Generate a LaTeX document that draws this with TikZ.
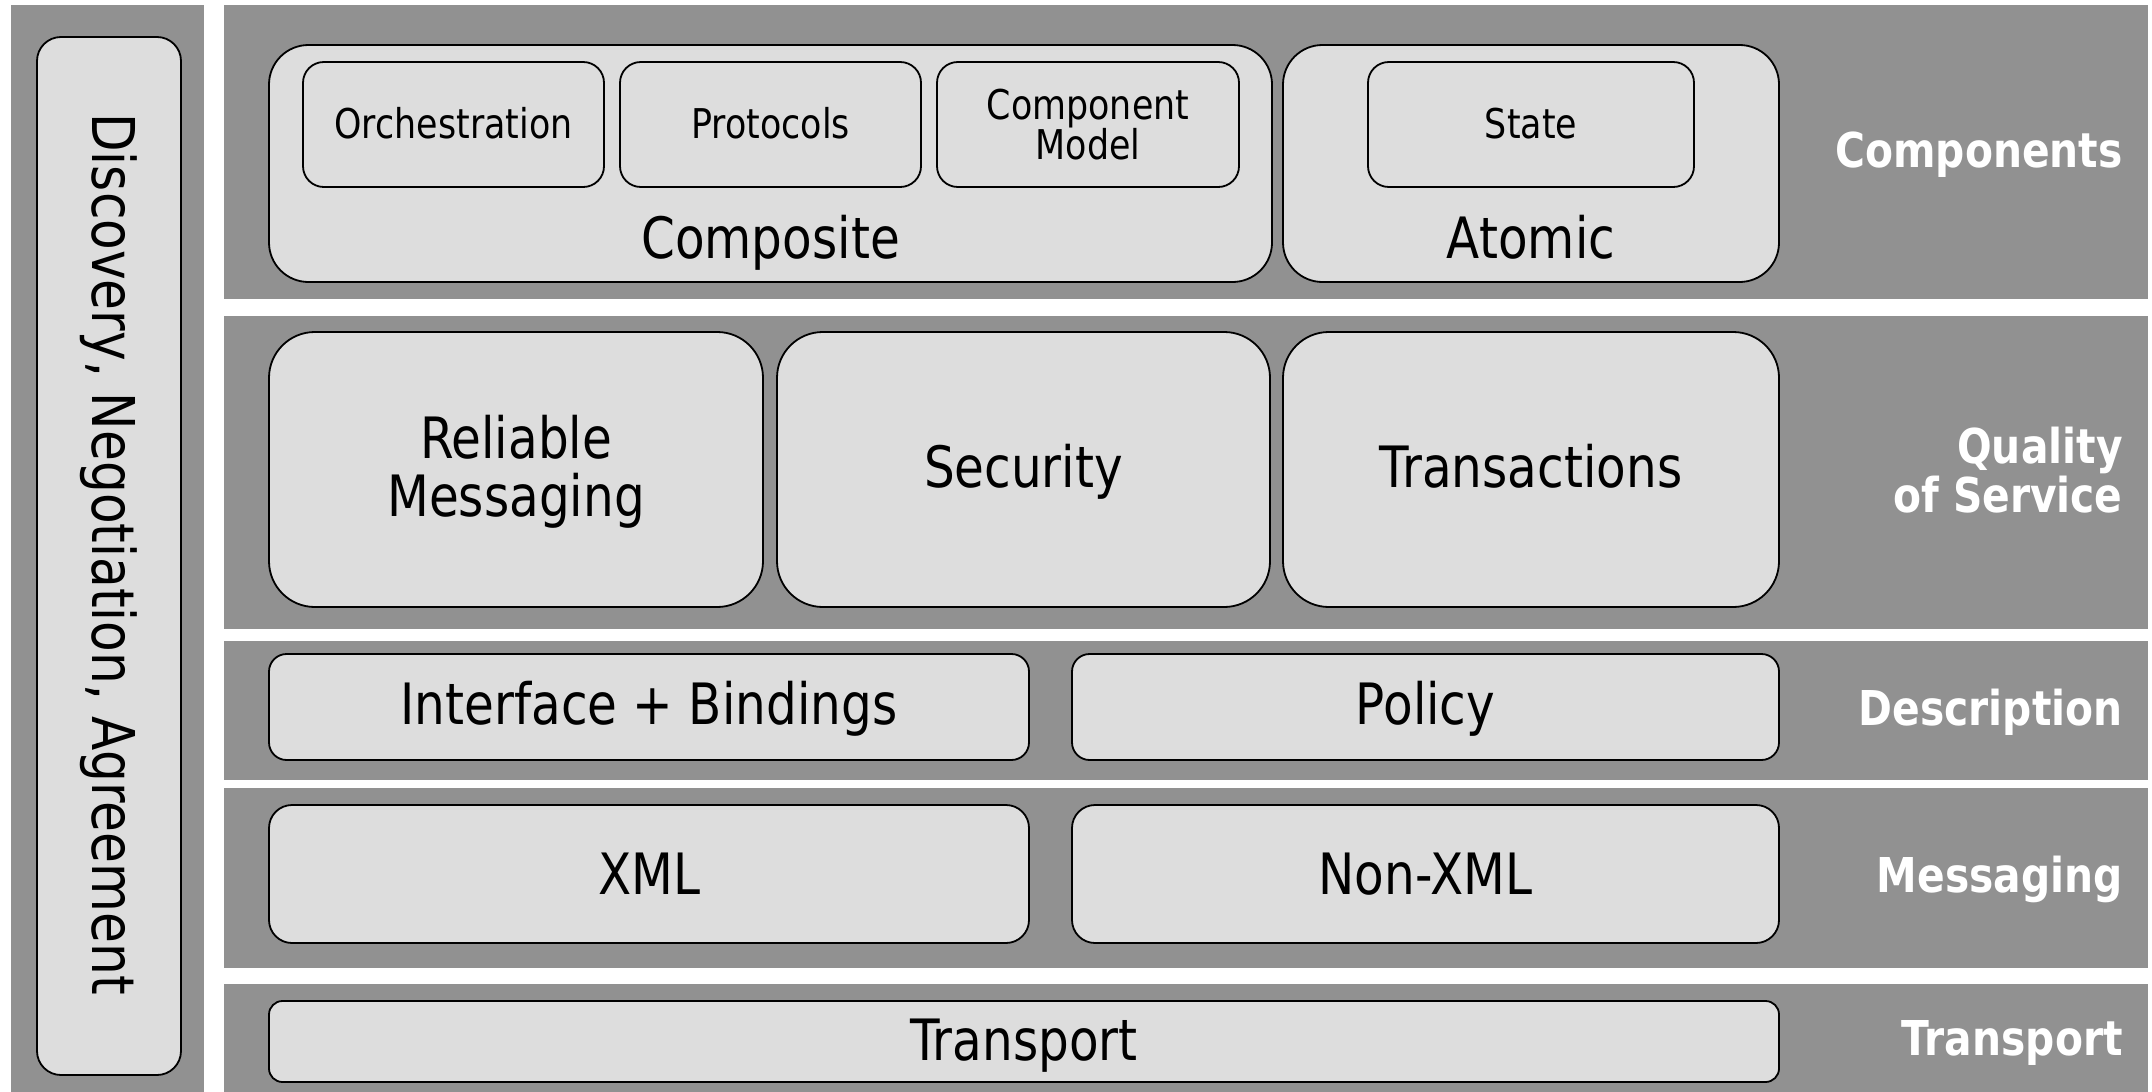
\documentclass[tikz,border=0pt]{standalone}
\usepackage{fontspec}
\setmainfont{DejaVu Sans}[FakeStretch=0.85]
\usetikzlibrary{fit}
\definecolor{bandgray}{HTML}{919191}
\definecolor{boxgray}{HTML}{DDDDDD}
\tikzset{
  band/.style={fill=bandgray, draw=none, inner sep=0pt},
  rbox/.style={fill=boxgray, draw=black, line width=0.9pt, inner sep=0pt},
  bigtext/.style={font=\fontsize{28.5}{29}\selectfont, align=center, inner sep=0pt},
  smalltext/.style={font=\fontsize{20.5}{20}\selectfont, align=center, inner sep=0pt},
  layer/.style={font=\bfseries\fontsize{24}{21.5}\selectfont, text=white,
                align=right, inner sep=0pt},
}
\begin{document}
\begin{tikzpicture}[x=0.5pt,y=-0.5pt]
\useasboundingbox (0,0) rectangle (2152,1092);

% grey backgrounds: side column and the five layers
\node[band, fit={(11,5) (204,1092)}] (side) {};
\node[band, fit={(224,5) (2148,299)}] (components) {};
\node[band, fit={(224,316) (2148,629)}] (qos) {};
\node[band, fit={(224,641) (2148,780)}] (description) {};
\node[band, fit={(224,788) (2148,968)}] (messaging) {};
\node[band, fit={(224,984) (2148,1092)}] (transportlayer) {};

% side column
\node[rbox, rounded corners=12pt, fit={(37,37) (181,1075)}] (discbox) {};
\node[bigtext, font=\fontsize{29.5}{30}\selectfont, rotate=-90] (disc)
  at ([yshift=1pt]discbox.center) {Discovery, Negotiation, Agreement};

% components layer
\node[rbox, rounded corners=19.75pt, fit={(269,45) (1272,282)}] (composite) {};
\node[rbox, rounded corners=19.75pt, fit={(1283,45) (1779,282)}] (atomic) {};
\node[bigtext, anchor=base] (compositetext) at (770.5,258) {Composite};
\node[bigtext, anchor=base] (atomictext) at (1531,258) {Atomic};
\node[rbox, rounded corners=10.4pt, fit={(303,62) (604,187)}] (orch) {};
\node[rbox, rounded corners=10.4pt, fit={(620,62) (921,187)}] (proto) {};
\node[rbox, rounded corners=10.4pt, fit={(937,62) (1239,187)}] (cmodel) {};
\node[rbox, rounded corners=10.4pt, fit={(1368,62) (1694,187)}] (state) {};
\node[smalltext, anchor=base] (orchtext) at (453.5,138) {Orchestration};
\node[smalltext, anchor=base] (prototext) at (770.5,138) {Protocols};
\node[smalltext] (cmodeltext) at (cmodel.center) {Component\\Model};
\node[smalltext, anchor=base] (statetext) at (1531,138) {State};

% quality of service layer
\node[rbox, rounded corners=22.9pt, fit={(269,332) (763,607)}] (reliable) {};
\node[rbox, rounded corners=22.9pt, fit={(777,332) (1270,607)}] (security) {};
\node[rbox, rounded corners=22.9pt, fit={(1283,332) (1779,607)}] (transactions) {};
\node[bigtext] (reliabletext) at ([yshift=-1pt]reliable.center) {Reliable\\Messaging};
\node[bigtext, anchor=base] (securitytext) at (1023.5,487) {Security};
\node[bigtext, anchor=base] (transactionstext) at (1531,487) {Transactions};

% description layer
\node[rbox, rounded corners=8.8pt, fit={(269,654) (1029,760)}] (iface) {};
\node[rbox, rounded corners=8.8pt, fit={(1072,654) (1779,760)}] (policy) {};
\node[bigtext, anchor=base] (ifacetext) at (649,724) {Interface + Bindings};
\node[bigtext, anchor=base] (policytext) at (1425.5,724) {Policy};

% messaging layer
\node[rbox, rounded corners=11.5pt, fit={(269,805) (1029,943)}] (xml) {};
\node[rbox, rounded corners=11.5pt, fit={(1072,805) (1779,943)}] (nonxml) {};
\node[bigtext, anchor=base] (xmltext) at (649,894) {XML};
\node[bigtext, anchor=base] (nonxmltext) at (1425.5,894) {Non-XML};

% transport layer
\node[rbox, rounded corners=6.75pt, fit={(269,1001) (1779,1082)}] (transport) {};
\node[bigtext, anchor=base] (transporttext) at (1024,1060) {Transport};

% layer names
\node[layer, anchor=base east] (lcomp) at (2123,167) {Components};
\node[layer, anchor=east] (lqos) at (2123,470) {Quality\\of Service};
\node[layer, anchor=base east] (ldesc) at (2123,725) {Description};
\node[layer, anchor=base east] (lmsg) at (2123,892) {Messaging};
\node[layer, anchor=base east] (ltrans) at (2123,1055) {Transport};
\end{tikzpicture}
\end{document}
